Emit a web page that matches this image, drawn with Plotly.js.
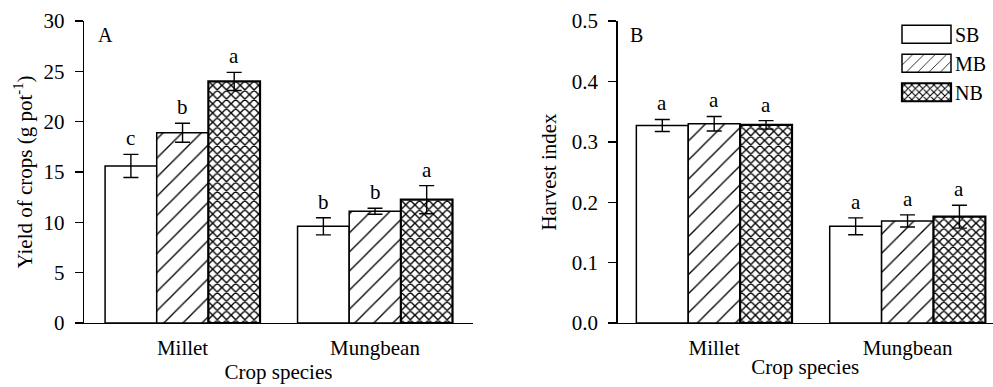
<!DOCTYPE html>
<html><head><meta charset="utf-8">
<script src="https://cdn.plot.ly/plotly-3.0.1.min.js"></script>
<style>body{margin:0;background:#fff}</style>
</head><body>
<div id="chart" style="width:993px;height:387px"></div>
<script>
// ---- data ----
const crops = ['Millet', 'Mungbean'];
const seriesNames = ['SB', 'MB', 'NB'];

// Panel A: yield of crops (g pot-1)
const yieldSB = [15.6, 9.6];
const yieldMB = [18.9, 11.1];
const yieldNB = [24.0, 12.25];
const yieldErrSB = [1.15, 0.85];
const yieldErrMB = [0.95, 0.3];
const yieldErrNB = [0.9, 1.4];
const yieldLetSB = ['c', 'b'];
const yieldLetMB = ['b', 'b'];
const yieldLetNB = ['a', 'a'];

// Panel B: harvest index
const hiSB = [0.327, 0.160];
const hiMB = [0.330, 0.169];
const hiNB = [0.328, 0.176];
const hiErrSB = [0.010, 0.014];
const hiErrMB = [0.012, 0.010];
const hiErrNB = [0.007, 0.019];
const hiLetSB = ['a', 'a'];
const hiLetMB = ['a', 'a'];
const hiLetNB = ['a', 'a'];

const yTicksA = [0, 5, 10, 15, 20, 25, 30];
const yTicksB = [0, 0.1, 0.2, 0.3, 0.4, 0.5];
const yTickTextB = ['0.0', '0.1', '0.2', '0.3', '0.4', '0.5'];

// ---- styles ----
const FONT = 'Liberation Serif';
const BARGAP = 0.195;
const patterns = [
  {shape: ''},
  {shape: '/', size: 13.5, solidity: 0.1, fgcolor: '#000', bgcolor: '#fff'},
  {shape: 'x', size: 6.5, solidity: 0.38, fgcolor: '#000', bgcolor: '#fff'}
];
const outlineW = [1.5, 1.5, 2.2];

const panelA = {vals: [yieldSB, yieldMB, yieldNB], errs: [yieldErrSB, yieldErrMB, yieldErrNB], lets: [yieldLetSB, yieldLetMB, yieldLetNB]};
const panelB = {vals: [hiSB, hiMB, hiNB], errs: [hiErrSB, hiErrMB, hiErrNB], lets: [hiLetSB, hiLetMB, hiLetNB]};

const traces = [];
const annotations = [];
[[panelA, 'x', 'y', false], [panelB, 'x2', 'y2', true]].forEach(([p, xa, ya, showLeg]) => {
  seriesNames.forEach((name, i) => {
    traces.push({
      type: 'bar', name: name, x: crops, y: p.vals[i],
      xaxis: xa, yaxis: ya, showlegend: showLeg,
      marker: {color: '#fff', line: {color: '#000', width: outlineW[i]}, pattern: patterns[i]},
      error_y: {type: 'data', array: p.errs[i], visible: true, color: '#000', thickness: 1.4, width: 7.5}
    });
    const bw = (1 - BARGAP) / seriesNames.length;
    crops.forEach((c, j) => {
      annotations.push({
        xref: xa, yref: ya, x: j + (i - 1) * bw, y: p.vals[i][j] + p.errs[i][j],
        text: p.lets[i][j], showarrow: false, yanchor: 'bottom', yshift: 2,
        font: {family: FONT, size: 21, color: '#000'}
      });
    });
  });
});
annotations.push({xref: 'x domain', yref: 'y domain', x: 0.032, y: 0.955, xanchor: 'left', yanchor: 'middle', text: 'A', showarrow: false, font: {family: FONT, size: 20, color: '#000'}});
annotations.push({xref: 'x2 domain', yref: 'y2 domain', x: 0.028, y: 0.955, xanchor: 'left', yanchor: 'middle', text: 'B', showarrow: false, font: {family: FONT, size: 20, color: '#000'}});

function xAxis(extra) {
  return Object.assign({
    type: 'category', showline: true, linecolor: '#000', linewidth: 1.4, ticks: '', showgrid: false, zeroline: false,
    tickfont: {family: FONT, size: 21, color: '#000'}, ticklabelstandoff: 5,
    title: {text: 'Crop species', font: {family: FONT, size: 21, color: '#000'}, standoff: 0}
  }, extra);
}
function yAxis(extra) {
  return Object.assign({
    showline: true, linecolor: '#000', linewidth: 1.4, ticks: 'outside', ticklen: 8, tickwidth: 1.4, tickcolor: '#000',
    showgrid: false, zeroline: false, tickfont: {family: FONT, size: 21, color: '#000'}, ticklabelstandoff: 6
  }, extra);
}

const layout = {
  width: 993, height: 387,
  margin: {l: 0, r: 0, t: 21, b: 64},
  paper_bgcolor: '#fff', plot_bgcolor: '#fff',
  barmode: 'group', bargap: BARGAP, bargroupgap: 0,
  font: {family: FONT, color: '#000'},
  xaxis: xAxis({domain: [84/993, 473/993], range: [-0.512, 1.509], anchor: 'y'}),
  xaxis2: xAxis({domain: [617.5/993, 1], range: [-0.5, 1.442], anchor: 'y2'}),
  yaxis: yAxis({anchor: 'x', range: [0, 30], tickvals: yTicksA,
    title: {text: 'Yield of crops (g pot<sup>-1</sup>)', font: {family: FONT, size: 21, color: '#000'}, standoff: 5}}),
  yaxis2: yAxis({anchor: 'x2', range: [0, 0.5], tickvals: yTicksB, ticktext: yTickTextB,
    title: {text: 'Harvest index', font: {family: FONT, size: 21, color: '#000'}, standoff: 9}}),
  legend: {x: 898/993, y: 1 + 8/387, xanchor: 'left', yanchor: 'top', xref: 'paper', yref: 'paper',
    bgcolor: 'rgba(0,0,0,0)', borderwidth: 0, itemwidth: 47, tracegroupgap: 0,
    font: {family: FONT, size: 20, color: '#000'}},
  annotations: annotations
};

Plotly.newPlot('chart', traces, layout, {displayModeBar: false, staticPlot: true}).then(gd => {
  gd.querySelectorAll('.legend .legendpoints path').forEach(p => p.setAttribute('d', 'M24.5,9H-24.5V-9H24.5Z'));
});
</script>
</body></html>
